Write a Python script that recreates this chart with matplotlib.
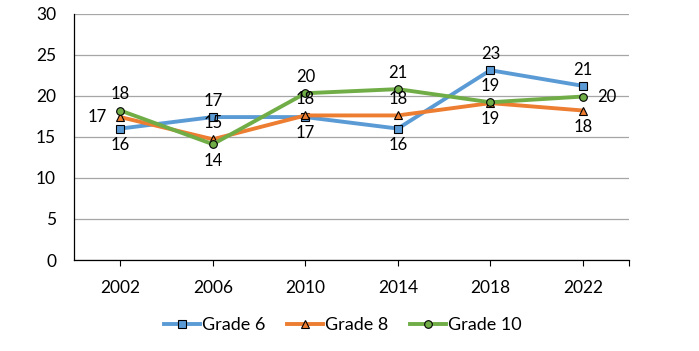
import matplotlib
matplotlib.use("Agg")
import matplotlib.pyplot as plt
import numpy as np

years = ["2002", "2006", "2010", "2014", "2018", "2022"]
grade6 = [16.0, 17.4, 17.4, 16.0, 23.1, 21.2]
grade8 = [17.4, 14.7, 17.6, 17.6, 19.1, 18.2]
grade10 = [18.2, 14.1, 20.3, 20.8, 19.2, 19.9]
labels6 = ["16", "17", "17", "16", "23", "21"]
labels8 = ["17", "15", "18", "18", "19", "18"]
labels10 = ["18", "14", "20", "21", "19", "20"]

pos6 = ["below", "above", "below", "below", "above", "above"]
pos8 = ["left", "above", "above", "above", "below", "below"]
pos10 = ["above", "below", "above", "above", "above", "right"]

plt.rcParams['font.family'] = ['Lato', 'DejaVu Sans']

fig = plt.figure(figsize=(6.99, 3.51), dpi=100)
ax = fig.add_axes([0.106, 0.259, 0.794, 0.7025])

x = np.arange(len(years))
series = [
    ("Grade 6", grade6, labels6, pos6, "#5B9BD5", "s"),
    ("Grade 8", grade8, labels8, pos8, "#ED7D31", "^"),
    ("Grade 10", grade10, labels10, pos10, "#70AD47", "o"),
]
for name, vals, labs, poss, col, mk in series:
    ax.plot(x, vals, color=col, lw=2.8, marker=mk, markersize=5.5,
            markerfacecolor=col, markeredgecolor="black", markeredgewidth=0.8,
            label=name, zorder=3)
    for xi, v, lab, p in zip(x, vals, labs, poss):
        if p == "above":
            off, ha, va = (0, 6), "center", "bottom"
        elif p == "below":
            off, ha, va = (0, -6), "center", "top"
        elif p == "left":
            off, ha, va = (-10, 0), "right", "center"
        else:
            off, ha, va = (10, 0), "left", "center"
        ax.annotate(lab, (xi, v), xytext=off, textcoords="offset points",
                    ha=ha, va=va, fontsize=12, color="black", zorder=4)

ax.set_xlim(-0.5, 5.5)
ax.set_ylim(0, 30)
ax.set_yticks(np.arange(0, 31, 5))
ax.set_xticks(x)
ax.set_xticklabels(years)
ax.set_xticks([5.5], minor=True)
ax.tick_params(axis="y", length=0, pad=13, labelsize=12.5)
ax.tick_params(axis="x", which="both", length=4, width=0.8, pad=10, labelsize=12.5, direction="out")
ax.yaxis.grid(True, color="#A6A6A6", lw=0.9)
ax.set_axisbelow(True)
for s in ["top", "right"]:
    ax.spines[s].set_visible(False)
for s in ["left", "bottom"]:
    ax.spines[s].set_color("black")
    ax.spines[s].set_linewidth(0.9)
ax.spines["left"].set_zorder(5)

fig.legend(loc="center", bbox_to_anchor=(0.49, 0.074), ncol=3, frameon=False,
           fontsize=13, handlelength=2.0, handletextpad=0.1, columnspacing=1.2)

fig.savefig("out.png", dpi=100)
